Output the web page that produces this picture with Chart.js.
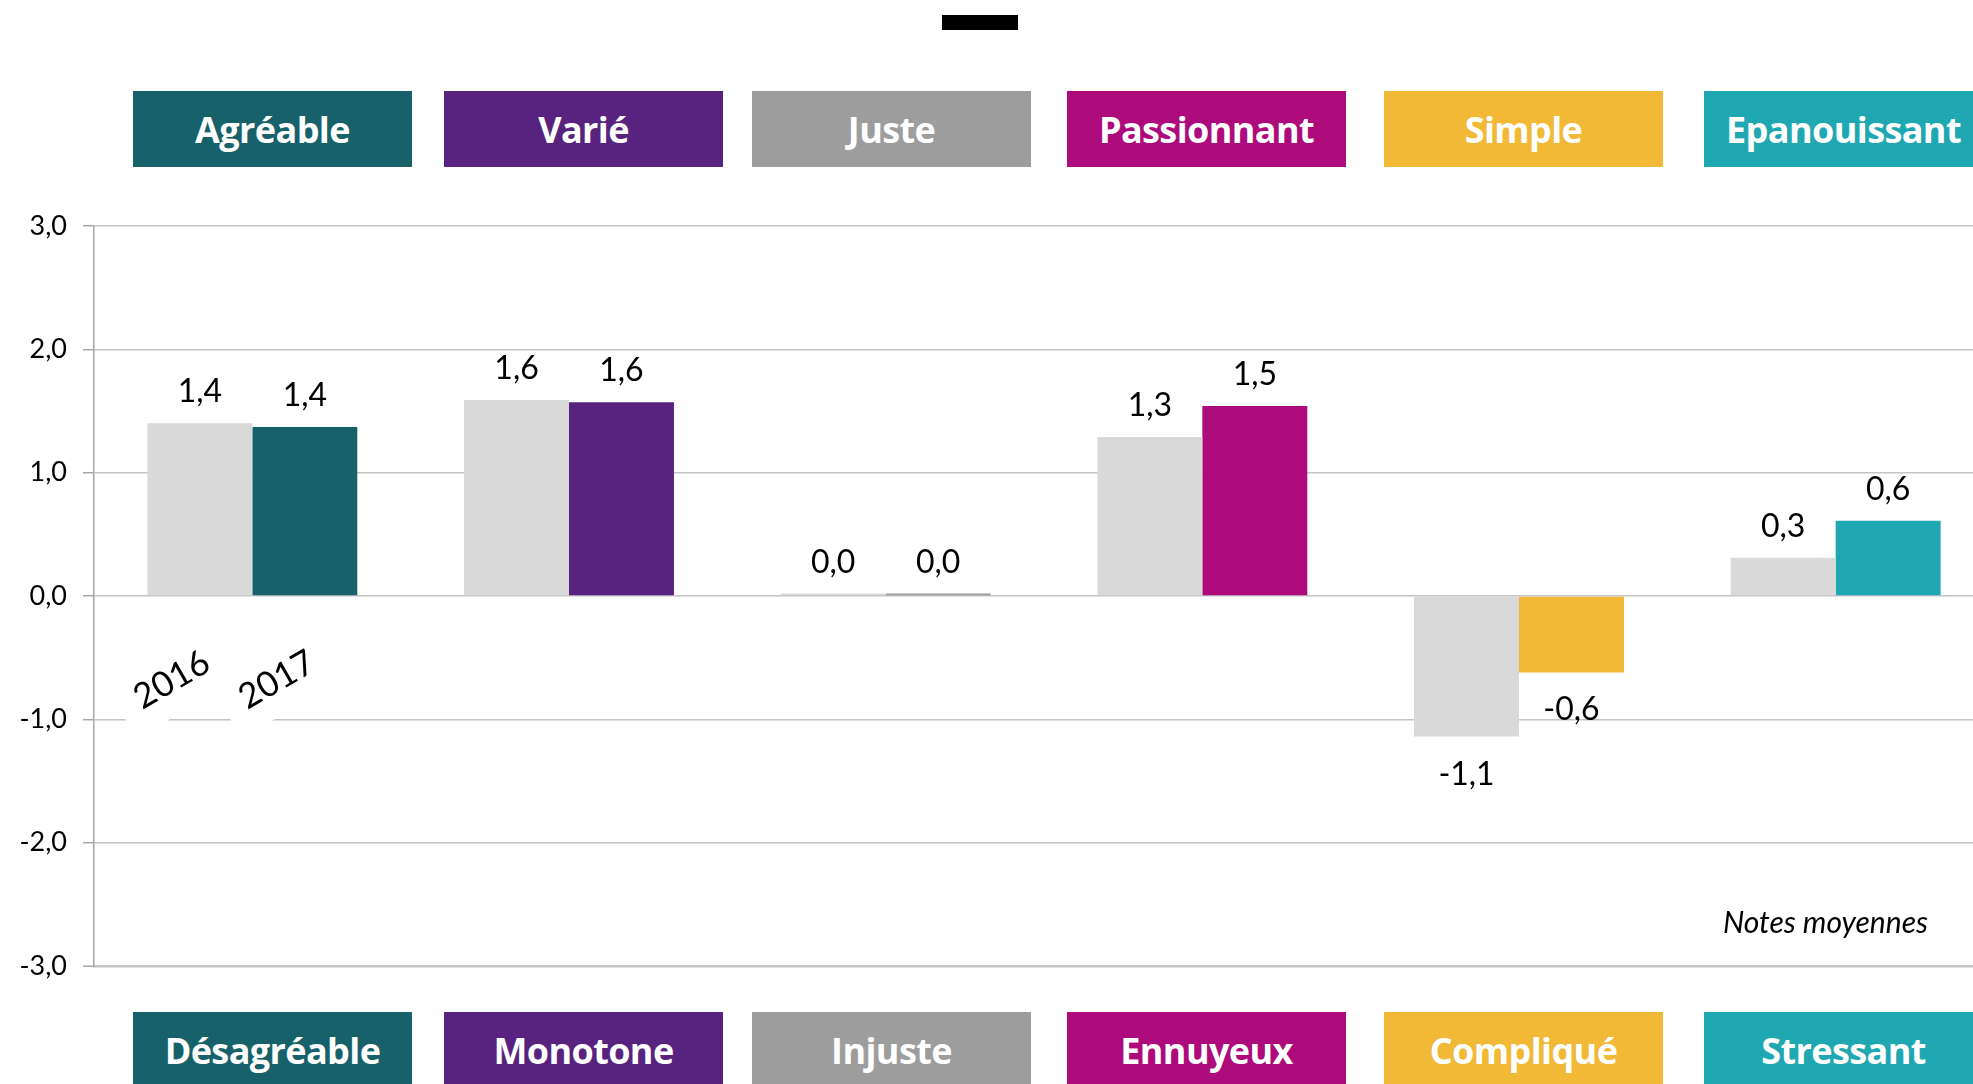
<!DOCTYPE html>
<html lang="fr">
<head>
<meta charset="UTF-8">
<title>Notes moyennes 2016 / 2017</title>
<script src="https://cdn.jsdelivr.net/npm/chart.js@4.4.0/dist/chart.umd.min.js"></script>
<style>
    html, body { margin: 0; padding: 0; background: #fff; overflow: hidden; width: 1973px; height: 1084px; }
    #wrap { position: absolute; left: 0; top: 0; width: 2000px; height: 1084px; }
    #titre { position: absolute; left: 942px; top: 15px; width: 76px; height: 15px; background: #000; }
    .boite {
        position: absolute; width: 279px; height: 76px;
        display: flex; align-items: center; justify-content: center;
        color: #fff; font-family: "Open Sans", sans-serif; font-weight: 700; font-size: 36px;
        letter-spacing: -0.6px; white-space: nowrap;
    }
</style>
</head>
<body>
<div id="titre"></div>
<div id="wrap"><canvas id="graphique"></canvas></div>
<div id="boites"></div>
<script>
// Données
const categories = ['Agréable', 'Varié', 'Juste', 'Passionnant', 'Simple', 'Epanouissant'];
const contraires = ['Désagréable', 'Monotone', 'Injuste', 'Ennuyeux', 'Compliqué', 'Stressant'];
const annees = ['2016', '2017'];
const notes2016 = [1.40, 1.59, 0.02, 1.29, -1.14, 0.31];
const notes2017 = [1.37, 1.57, 0.02, 1.54, -0.62, 0.61];
const couleurs = ['#17616A', '#58237F', '#9D9D9D', '#AD0A7C', '#F2B937', '#20A8B2'];
const graduations = [-3, -2, -1, 0, 1, 2, 3];

// Mise en page des pavés de libellés (haut et bas)
const gauchesBoites = [133, 444, 752, 1067, 1384, 1704];
const hautBoites = 91;
const basBoites = 1012;

const conteneur = document.getElementById('boites');
categories.forEach((cat, i) => {
    [[cat, hautBoites], [contraires[i], basBoites]].forEach(([texte, top]) => {
        const div = document.createElement('div');
        div.className = 'boite';
        div.style.left = gauchesBoites[i] + 'px';
        div.style.top = top + 'px';
        div.style.background = couleurs[i];
        div.textContent = texte;
        conteneur.appendChild(div);
    });
});

const virgule = v => v.toFixed(1).replace('.', ',');

// Valeurs au-dessus / en dessous des barres, années et mention "Notes moyennes"
const etiquettes = {
    id: 'etiquettes',
    afterDatasetsDraw(chart) {
        const ctx = chart.ctx;
        ctx.save();
        ctx.fillStyle = '#000';
        ctx.textAlign = 'center';
        ctx.font = '32px Lato';
        chart.data.datasets.forEach((ds, i) => {
            chart.getDatasetMeta(i).data.forEach((bar, j) => {
                const v = ds.data[j];
                const y = v >= 0 ? bar.y - 21 : bar.y + 48;
                ctx.fillText(virgule(v), bar.x, y);
            });
        });

        // années sous le premier groupe, en biais sur fond blanc
        ctx.font = '35px Lato';
        const yAnnee = chart.scales.y.getPixelForValue(-0.68);
        annees.forEach((an, i) => {
            const bar = chart.getDatasetMeta(i).data[0];
            ctx.save();
            ctx.translate(bar.x - 28, yAnnee);
            ctx.rotate(-30 * Math.PI / 180);
            ctx.fillStyle = '#fff';
            ctx.fillRect(-60, -33, 120, 66);
            ctx.fillStyle = '#000';
            ctx.textBaseline = 'middle';
            ctx.fillText(an, 0, 0);
            ctx.restore();
        });

        ctx.font = 'italic 30px Lato';
        ctx.textAlign = 'right';
        ctx.fillText('Notes moyennes', 1928, 933);
        ctx.restore();
    }
};

const ctx = document.getElementById('graphique').getContext('2d');
const graphique = new Chart(ctx, {
    type: 'bar',
    data: {
        labels: categories,
        datasets: [{
            label: annees[0],
            data: notes2016,
            backgroundColor: '#D9D9D9',
        }, {
            label: annees[1],
            data: notes2017,
            backgroundColor: couleurs,
        }]
    },
    options: {
        responsive: true,
        maintainAspectRatio: false,
        animation: false,
        layout: { padding: { left: 0, right: 6, top: 226, bottom: 118 } },
        plugins: {
            legend: { display: false },
            tooltip: { enabled: false },
        },
        datasets: {
            bar: { categoryPercentage: 0.663, barPercentage: 1 }
        },
        scales: {
            x: { display: false },
            y: {
                min: graduations[0],
                max: graduations[graduations.length - 1],
                afterFit(scale) { scale.width = 94; },
                ticks: {
                    stepSize: 1,
                    padding: 16,
                    color: '#000',
                    font: { family: 'Lato', size: 27 },
                    callback: v => virgule(v),
                },
                grid: {
                    color: '#C4C4C4',
                    lineWidth: c => (c.tick && c.tick.value === graduations[0]) ? 2.5 : 1.4,
                    tickLength: 11,
                    tickColor: '#A6A6A6',
                    tickWidth: 1.5,
                },
                border: { color: '#A6A6A6', width: 1.5 },
            }
        }
    },
    plugins: [etiquettes]
});
</script>
</body>
</html>
